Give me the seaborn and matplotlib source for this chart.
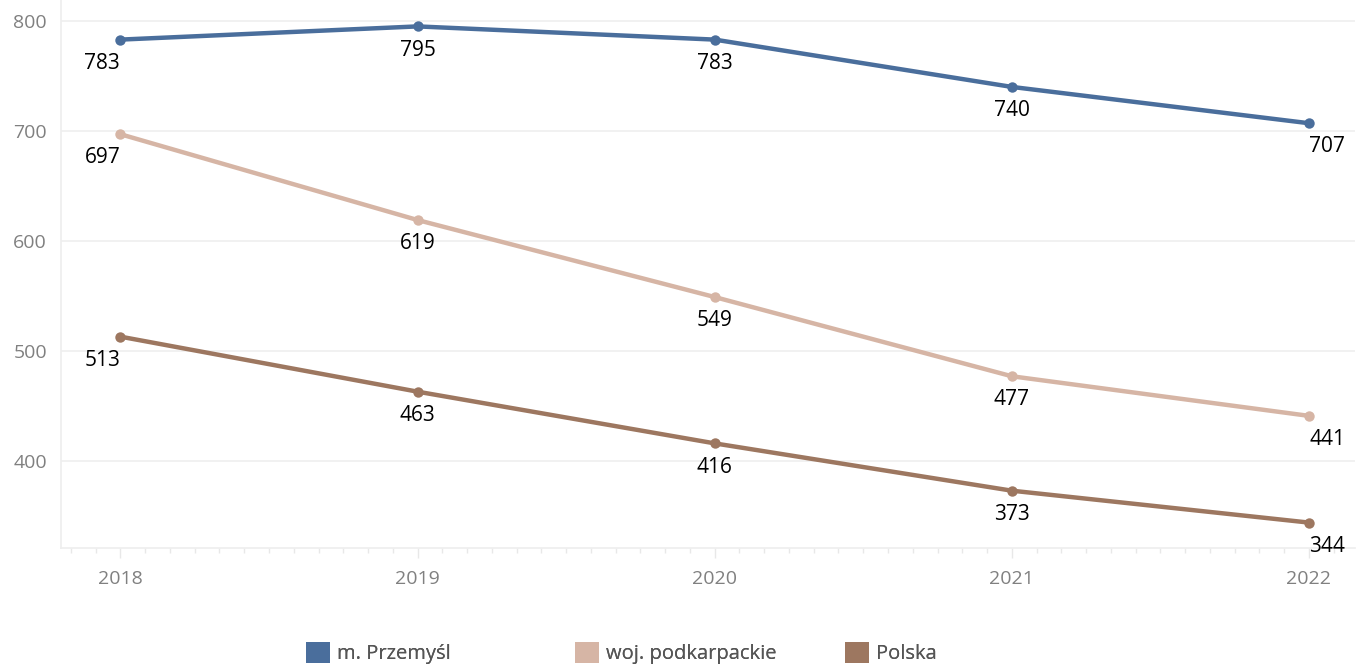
import pandas as pd
import seaborn as sns
import matplotlib.pyplot as plt
from matplotlib.patches import Patch
from matplotlib.ticker import MultipleLocator

# === dane ===
YEARS = [2018, 2019, 2020, 2021, 2022]
PRZEMYSL = [783, 795, 783, 740, 707]
PODKARPACKIE = [697, 619, 549, 477, 441]
POLSKA = [513, 463, 416, 373, 344]
SERIES = ["m. Przemyśl", "woj. podkarpackie", "Polska"]
COLORS = ["#4A6E9C", "#D6B5A5", "#9D7760"]
LEGEND_X = [306, 575, 845]   # pozycje elementów legendy (px)

df = pd.DataFrame({
    "rok": YEARS * 3,
    "wartosc": PRZEMYSL + PODKARPACKIE + POLSKA,
    "seria": [s for s in SERIES for _ in YEARS],
})

# === wykres ===
sns.set_theme(style="white")
plt.rcParams["font.family"] = ["Open Sans", "DejaVu Sans"]

W, H = 1358, 666
fig = plt.figure(figsize=(W / 100, H / 100), dpi=100)
ax = fig.add_axes([61 / W, 118 / H, (1355 - 61) / W, (H - 118) / H])

sns.lineplot(data=df, x="rok", y="wartosc", hue="seria", palette=COLORS,
             marker="o", markersize=7.5, markeredgewidth=0, linewidth=3.2,
             legend=False, ax=ax)

ax.set_xlim(2017.80, 2022.155)
ax.set_ylim(320.9, 819)
ax.set_yticks([400, 500, 600, 700, 800])
ax.set_xticks(YEARS)
ax.xaxis.set_minor_locator(MultipleLocator(1 / 12))
ax.set_xlabel("")
ax.set_ylabel("")

ax.grid(axis="y", color="#efefef", linewidth=1.2)
ax.set_axisbelow(True)
for side in ["top", "right"]:
    ax.spines[side].set_visible(False)
ax.spines["left"].set_color("#eeeeee")
ax.spines["bottom"].set_color("#eeeeee")

ax.tick_params(axis="y", left=False, length=0, labelsize=14,
               labelcolor="#808080", pad=10)
ax.tick_params(axis="x", which="both", bottom=True, direction="out")
ax.tick_params(axis="x", which="major", length=7, width=1, color="#e8e8e8",
               labelsize=14, labelcolor="#808080", pad=9)
ax.tick_params(axis="x", which="minor", length=3.5, width=1, color="#e8e8e8")

# etykiety wartości pod punktami
for vals in [PRZEMYSL, PODKARPACKIE, POLSKA]:
    for x, v in zip(YEARS, vals):
        dx = 0
        if x == YEARS[0]:
            dx = -13
        elif x == YEARS[-1]:
            dx = 13
        ax.annotate(str(v), (x, v), xytext=(dx, -9.5), textcoords="offset points",
                    ha="center", va="top", fontsize=15, color="black")

# legenda - każdy element osobno, w stałych kolumnach
for name, col, lx in zip(SERIES, COLORS, LEGEND_X):
    leg = fig.legend([Patch(facecolor=col, edgecolor="none")], [name],
                     loc="lower left", bbox_to_anchor=(lx / W, 2 / H),
                     frameon=False, fontsize=14.5, labelcolor="#555555",
                     handlelength=1.2, handleheight=1.2, handletextpad=0.35,
                     borderpad=0, borderaxespad=0)
    fig.add_artist(leg)

fig.savefig("out.png", dpi=100)
